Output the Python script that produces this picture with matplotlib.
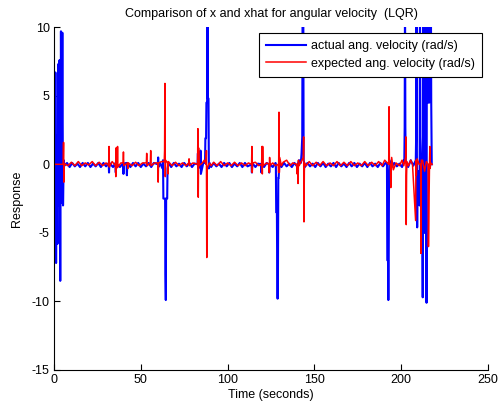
import matplotlib
matplotlib.use('Agg')
from matplotlib import pyplot as plt

# actual angular velocity (blue)
blue_t = [0, 0.4, 0.8, 1.2, 1.6, 2.0, 2.4, 2.8, 3.2, 3.6, 4.0, 4.4, 4.8, 5.2, 5.6, 6.0,
          7.5, 9, 10.5, 12, 13.5, 15, 16.5, 18, 19.5, 21, 22.5, 24, 25.5, 27, 28.5, 30,
          31.5, 31.7, 31.9, 34, 35.4, 35.6, 35.8, 38, 39.8, 40.0, 40.2, 41.8, 42.0, 42.2, 44, 45.5,
          47, 48.5, 50, 51.5, 53, 54.5, 56, 57.5, 59.8, 60.0, 60.2, 61, 62.5, 62.8, 63.0, 64.0, 64.2,
          64.4, 64.6, 65.2, 65.4, 66,
          67.5, 69, 70.5, 72, 73.5, 75, 76.5, 78, 79.5, 81, 82.7, 82.9, 83.1, 84.2, 84.4, 84.6, 86,
          87.0, 87.2, 87.6, 87.8, 88.2, 88.4, 88.6, 89.0, 89.2, 89.6,
          90.5, 92, 93.5, 95, 96.5, 98, 99.5, 101, 102.5, 104, 105.5,
          107, 108.5, 110, 111.5, 113.8, 114.0, 114.2, 116, 117.5, 119.3, 119.5, 119.7, 121, 122.5,
          123.8, 124.0, 124.2, 126, 127.6, 127.8, 128.0, 128.4, 128.6, 128.8, 129.0, 129.2, 129.4, 129.8,
          131, 132.5, 134, 135.5, 137, 138.5, 140,
          141.2, 142.2, 142.6, 142.8, 143.0, 143.2, 143.6, 143.8, 144.5, 146, 147.5, 149, 150.5,
          152, 153.5, 155, 156.5,
          158, 159.5, 161, 162.5, 164, 165.5, 167, 168.5, 170, 171.5, 173, 174.5, 176, 177.5,
          179, 180.5, 182, 183.5, 185, 186.5, 188, 189.5, 191, 191.8, 192.0, 192.4, 192.6, 192.8,
          193.0, 193.3, 194.5, 196, 197.5, 199, 200.5, 201.6, 201.8, 202.0, 202.2, 202.4, 202.6,
          204, 205.5, 207, 208.4, 208.6, 208.8, 209.0, 209.2, 209.4, 210.4, 210.6, 210.8, 211.0,
          212.2, 212.4, 212.6, 212.8, 213.5, 213.7, 214.2, 214.6, 214.8, 215.0, 215.5,
          215.8, 216.2, 216.5, 216.8, 217.1, 217.3, 217.6]
blue_v = [1.5, -4.8, 6.7, -7.2, 2.1, -5.8, 7.3, -3.0, 7.6, -8.5, 9.7, -2.8, 9.6, -3.0, 0.3, -0.1,
          0.1, -0.2, 0.1, -0.15, 0.05, -0.2, 0.1, -0.15, 0.1, -0.2, 0.05, -0.15, 0.1, -0.2, 0.1, -0.15,
          0.1, -0.6, 0.1, -0.2, 0.1, -0.6, 0.05, -0.2, 0.1, -0.7, 0.05, 0.1, -0.8, 0.1, -0.2, 0.1,
          -0.15, 0.1, -0.2, 0.05, -0.15, 0.1, -0.2, 0.1, 0.0, 0.5, -0.2, 0.1, -0.3, 0.3, -2.5, -2.5, -8.0,
          -9.9, -2.5, -2.5, -0.3, 0.1,
          -0.2, 0.1, -0.15, 0.05, -0.2, 0.1, -0.15, 0.1, -0.2, 0.05, 0.0, 0.8, -0.3, 0.0, 1.0, -0.7, 0.1,
          0.1, 1.9, 1.9, 4.5, 4.5, 10.5, 4.8, 4.8, -0.3, 0.1,
          -0.2, 0.1, -0.15, 0.05, -0.2, 0.1, -0.15, 0.1, -0.2, 0.05, -0.15,
          0.1, -0.2, 0.1, -0.15, 0.0, -0.6, 0.1, -0.2, 0.05, 0.0, -0.6, 0.1, -0.2, 0.1,
          0.0, -0.6, 0.05, -0.2, 0.1, 0.0, -3.5, -3.5, -8.2, -9.8, -8.2, -1.0, -1.0, 0.1,
          -0.2, 0.1, -0.15, 0.05, -0.2, 0.1, -0.15,
          0.3, 0.1, 0.8, 1.5, 2.0, 12.0, 12.0, 0.3, -0.2, 0.1, -0.15, 0.05, -0.2,
          0.1, -0.15, 0.1, -0.2,
          0.05, -0.15, 0.1, -0.2, 0.1, -0.15, 0.05, -0.2, 0.1, -0.15, 0.1, -0.2, 0.05, -0.15,
          0.1, -0.2, 0.1, -0.15, 0.05, -0.2, 0.1, -0.15, 0.1, 0.1, -7.0, -7.0, -9.9, -7.0,
          -0.5, 0.3, -0.2, 0.1, -0.15, 0.05, -0.2, 0.3, 0.3, 2.7, 13.0, 2.7, 0.2,
          -0.2, 0.3, -0.1, 0.3, 2.0, 13.0, 2.0, -4.6, -0.5, -0.5, -3.0, 13.0, 2.0,
          -3.0, -9.7, 13.0, -5.0, -5.0, 13.0, 2.0, -10.1, 13.0, 4.5, 4.5,
          13.0, 4.5, 13.0, 6.0, 13.0, 4.5, 0.0]

# expected angular velocity (red)
red_t = [0, 2, 4, 5.3, 5.5, 5.7, 5.9, 8, 10, 12, 14, 16, 18, 20, 22, 24, 26, 28, 30,
         31.5, 31.7, 31.9, 33.5, 35.4, 35.6, 35.8, 36.0, 36.4, 36.6, 36.8, 38.5, 39.8, 40.0, 40.2,
         42.4, 42.6, 42.8, 45, 47, 49, 51, 53.2, 53.4, 53.6, 55.5, 55.7, 55.9, 58, 59.8, 60.0, 60.2,
         62, 63.5, 63.7, 63.9, 64.1, 64.3, 65.5, 65.7, 65.9, 68, 70,
         72, 74, 76, 77.6, 77.8, 78.0, 80, 82.7, 82.9, 83.1, 83.3, 83.5, 85.5, 86.5, 87.6, 87.8,
         88.0, 88.2, 89.5, 90.5,
         92, 94, 96, 98, 100, 102, 104, 106, 108, 110, 112, 113.8, 114.0, 114.2, 114.4, 116, 118,
         119.6, 119.8, 120.0, 120.2, 120.4, 122.5, 123.8, 124.0, 124.2, 124.4, 126, 127.5,
         129.2, 129.4, 129.6, 129.8, 130.0, 131,
         132, 134, 136, 137.5, 139.8, 140.0, 140.4, 140.6, 140.8, 141.2, 143.6, 143.8, 144.0,
         144.2, 144.4, 145.3,
         147, 149, 151, 153, 155, 157, 159, 161, 163, 165, 167, 169, 171, 173, 175, 177, 179,
         181, 183, 185, 187, 189, 190.5, 192.8, 193.0, 193.2, 193.8, 194.0, 194.5, 195.5, 197, 199,
         200.5, 201.5, 202.5, 202.7, 202.9, 203.1, 203.3, 204.2, 205.5, 206.5, 208.3, 208.5, 208.7,
         209.2, 210.3, 211.2, 211.4, 211.6, 212.3, 213.5, 214.5, 215.5, 215.7, 216.3, 216.5,
         216.7, 217.0, 217.8]
red_v = [0, 0, 0, 0, 1.6, -1.3, 0.05, -0.1, 0.15, -0.1, 0.2, -0.1, 0.1, -0.05, 0.2, -0.1, 0.15, -0.1, 0.1,
         -0.1, 1.3, -0.2, 0.2, -0.1, -0.9, 1.2, -0.3, -0.1, 1.3, -0.2, 0.1, 0.1, 0.9, -0.1,
         0.1, -0.3, 0.1, -0.1, 0.15, -0.1, 0.1, 0.1, 0.8, -0.1, 0.1, 1.0, -0.1, 0.1, 0.1, -1.3, 0.1,
         0.2, 0.2, 1.0, 5.9, -0.9, 0.3, 0.1, -0.7, 0.2, -0.1, 0.15,
         -0.1, 0.1, -0.1, 0.1, 0.4, -0.1, 0.1, 0.0, 2.6, -2.4, 1.2, -0.1, 0.1, 0.3, 0.0, 1.0,
         -6.8, -0.3, 0.1, -0.1,
         0.15, -0.1, 0.2, -0.1, 0.1, -0.1, 0.15, -0.1, 0.1, -0.1, 0.1, 0.0, 1.3, -0.6, 0.1, 0.15, -0.1,
         0.0, 1.3, -0.7, 1.3, -0.1, 0.1, 0.0, -0.6, 0.5, -0.1, 0.1, -0.1,
         0.0, -0.6, 3.8, -0.6, 0.5, -0.1,
         0.15, 0.3, -0.1, 0.1, 0.0, -0.7, 0.0, -1.4, 0.3, -0.1, 0.5, 2.0, -4.2,
         -0.5, 0.1, -0.1,
         0.2, -0.1, 0.15, -0.1, 0.2, -0.1, 0.1, -0.1, 0.2, -0.1, 0.15, -0.1, 0.2, -0.1, 0.1, -0.1, 0.2,
         -0.1, 0.15, -0.1, 0.2, -0.1, 0.3, 0.0, 4.2, 0.0, 0.0, -1.7, 0.5, -0.4, 0.1, -0.1,
         0.3, -0.1, 0.5, 2.0, -4.4, -0.8, 0.2, -0.1, 0.3, 0.0, -4.1, 0.3, -0.8,
         0.4, 0.0, 0.0, -6.5, 0.3, 0.3, -0.5, 0.2, 0.0, -6.0, 0.0, 1.3,
         -0.3, 0.1, 0.0]

xticks = [0, 50, 100, 150, 200, 250]
yticks = [-15, -10, -5, 0, 5, 10]

plt.rcParams['font.family'] = ['Liberation Sans', 'DejaVu Sans']
plt.rcParams['font.size'] = 9
plt.rcParams['axes.unicode_minus'] = False

fig = plt.figure(figsize=(5, 4.12), dpi=100)
ax = fig.add_axes([0.108, 0.102, 0.868, 0.832])

ax.plot(blue_t, blue_v, color='#0000ff', lw=1.5, label='actual ang. velocity (rad/s)')
ax.plot(red_t, red_v, color='#ff0000', lw=1.1, label='expected ang. velocity (rad/s)')

ax.set_xlim(0, 250)
ax.set_ylim(-15, 10)
ax.set_xticks(xticks)
ax.set_yticks(yticks)
ax.tick_params(direction='in', length=4, width=0.8, colors='black', labelsize=9, pad=3)
ax.spines['top'].set_visible(False)
ax.spines['right'].set_visible(False)
for s in ['left', 'bottom']:
    ax.spines[s].set_linewidth(0.8)

ax.set_title('Comparison of x and xhat for angular velocity  (LQR)', fontsize=9, pad=7)
ax.set_xlabel('Time (seconds)', fontsize=9, labelpad=2)
ax.set_ylabel('Response', fontsize=9, labelpad=6)

leg = ax.legend(loc='upper right', bbox_to_anchor=(0.986, 0.984), fontsize=9,
                fancybox=False, framealpha=1, edgecolor='black', handlelength=3.2,
                borderpad=0.6, labelspacing=0.45, handletextpad=0.35, borderaxespad=0)
leg.get_frame().set_linewidth(0.8)

fig.savefig('out.png', dpi=100)
